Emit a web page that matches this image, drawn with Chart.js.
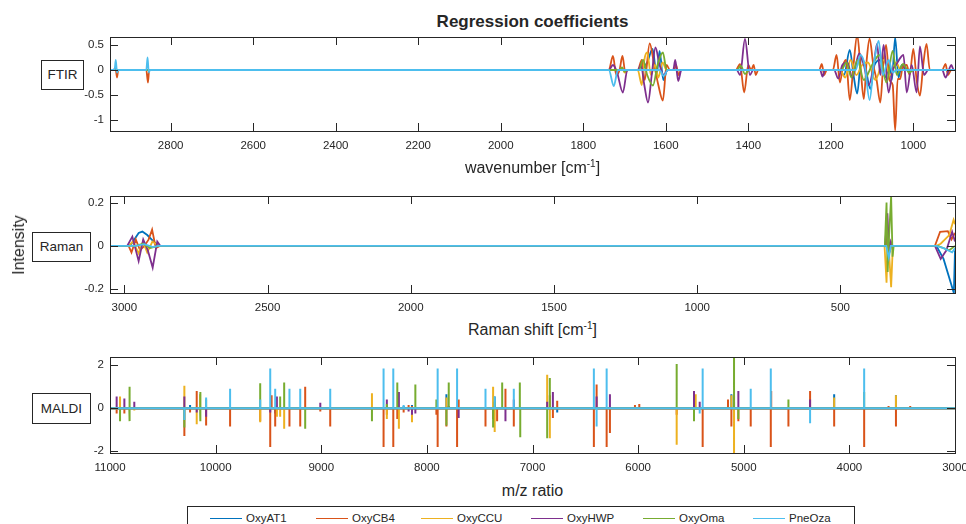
<!DOCTYPE html>
<html>
<head>
<meta charset="utf-8">
<script src="https://cdn.jsdelivr.net/npm/chart.js@4.4.4/dist/chart.umd.min.js"></script>
<style>
  html, body { margin: 0; padding: 0; background: #fff; overflow: hidden; }
  body { width: 966px; height: 524px; position: relative; font-family: 'Liberation Sans', Arial, sans-serif; color: #262626; }
  canvas { position: absolute; left: 0; }
  .txt { position: absolute; white-space: nowrap; }
  .titulo { left: 110px; width: 845px; top: 12px; text-align: center; font-weight: bold; font-size: 17px; }
  .eixo { left: 110px; width: 845px; text-align: center; font-size: 16px; }
  .eixo sup { font-size: 10px; }
  .caixa { position: absolute; border: 1px solid #262626; font-size: 13.5px; text-align: center; box-sizing: border-box; background: #fff; }
  .legenda { position: absolute; left: 187px; top: 506px; width: 668px; height: 40px; border: 1px solid #262626; box-sizing: border-box; }
  .item { position: absolute; top: 511px; font-size: 11.5px; line-height: 14px; }
  .amostra { position: absolute; top: 518px; height: 0; border-top: 1.5px solid; }
</style>
</head>
<body>

<div class="txt titulo">Regression coefficients</div>

<canvas id="ftir" width="1000" height="130" style="top:30px"></canvas>
<canvas id="raman" width="1000" height="130" style="top:190px"></canvas>
<canvas id="maldi" width="1000" height="130" style="top:350px"></canvas>

<div class="txt eixo" style="top:158px">wavenumber [cm<sup>-1</sup>]</div>
<div class="txt eixo" style="top:320px">Raman shift [cm<sup>-1</sup>]</div>
<div class="txt eixo" style="top:482px">m/z ratio</div>

<div class="txt" style="left:19px;top:245px;font-size:16px;transform:translate(-50%,-50%) rotate(-90deg)">Intensity</div>

<div class="caixa" style="left:41px;top:60px;width:43px;height:30px;line-height:28px">FTIR</div>
<div class="caixa" style="left:32px;top:232px;width:59px;height:30px;line-height:28px">Raman</div>
<div class="caixa" style="left:32px;top:393px;width:59px;height:31px;line-height:29px">MALDI</div>

<div class="legenda"></div>
<div id="itensLegenda"></div>

<script>
/* ── Séries e cores ── */
const SERIES = ['OxyAT1', 'OxyCB4', 'OxyCCU', 'OxyHWP', 'OxyOma', 'PneOza'];
const CORES  = ['#0072BD', '#D95319', '#EDB120', '#7E2F8E', '#77AC30', '#4DBEEE'];

/* ── FTIR: pares [número de onda, coeficiente] ── */
const ftirAT1 = [[2947,0],[1660,0],[1645,0.15],[1632,0.42],[1622,-0.1],[1615,0.38],[1606,-0.2],[1596,0],
  [1180,0],[1168,-0.1],[1154,0.4],[1145,-0.1],[1136,-0.47],[1126,0.25],[1116,0.05],[1104,-0.38],[1094,0.1],
  [1080,0.2],[1068,-0.15],[1058,0.1],[1052,-0.2],[1044,0.65],[1036,-0.15],[1028,0.1],[1018,0],[899,0]];
const ftirCB4 = [[2947,0],[2933,0],[2930,-0.15],[2927,0],[2859,0],[2855,-0.25],[2852,0],
  [1738,0],[1728,0.28],[1720,-0.1],[1712,0],[1705,0.28],[1698,-0.05],[1692,0],
  [1668,0],[1658,0.2],[1651,-0.2],[1639,0.53],[1628,0.1],[1618,-0.3],[1607,-0.61],[1598,0.1],[1590,0],
  [1580,0],[1575,0.1],[1569,-0.1],[1563,0],
  [1430,0],[1420,0.12],[1410,-0.45],[1400,0.1],[1393,0],[1387,0.1],[1382,-0.1],[1376,0],
  [1228,0],[1222,0.12],[1216,-0.1],[1210,0],
  [1195,0],[1186,0.3],[1178,-0.25],[1170,0.1],[1163,0.2],[1154,-0.6],[1145,0.1],[1136,0.7],[1128,0.05],
  [1120,-0.58],[1113,0.2],[1106,0.63],[1097,0.1],[1089,-0.2],[1080,-0.65],[1073,0.1],[1066,0.5],[1058,-0.2],
  [1050,-0.3],[1044,-1.21],[1038,-0.18],[1032,-0.18],[1026,0.05],[1016,0.1],[1009,-0.1],[1000,0.42],
  [992,-0.2],[984,-0.51],[976,0.1],[968,0.52],[960,0],[930,0],[922,0.12],[916,-0.1],[908,0],[899,0]];
const ftirCCU = [[2947,0],[1712,0],[1706,0.05],[1700,-0.05],[1694,0],
  [1668,0],[1658,-0.3],[1652,0.2],[1645,0.35],[1636,-0.1],[1626,0.1],[1618,-0.15],[1608,0.15],[1598,0],
  [1178,0],[1165,-0.15],[1152,0.2],[1138,-0.1],[1124,0.1],[1110,0.15],[1092,-0.2],[1072,0.2],[1056,-0.1],
  [1042,0.15],[1030,0],[899,0]];
const ftirHWP = [[2947,0],[2938,0],[2934,0.05],[2930,0],
  [1738,0],[1728,0.1],[1718,-0.05],[1704,-0.45],[1693,0],
  [1668,0],[1660,0.1],[1652,-0.3],[1643,-0.65],[1634,-0.1],[1625,0.45],[1615,0.1],[1605,-0.1],[1595,0],
  [1582,0],[1577,0.2],[1570,-0.22],[1562,0],
  [1428,0],[1420,-0.1],[1408,0.62],[1396,-0.1],[1388,0],
  [1226,0],[1220,-0.13],[1214,0],
  [1192,0],[1182,-0.17],[1172,0.1],[1160,0.15],[1148,-0.15],[1131,0.33],[1120,0.1],[1108,-0.3],[1096,0.1],
  [1088,0.52],[1080,-0.1],[1072,0.5],[1060,-0.45],[1050,0],[1042,0.1],[1024,0.3],[1016,-0.45],[1004,0.1],
  [992,-0.45],[984,0.47],[974,-0.1],[964,0],[930,0],[922,-0.15],[914,0],[908,0.1],[902,0],[899,0]];
const ftirOma = [[2947,0],[1712,0],[1706,0.05],[1700,-0.03],[1694,0],
  [1665,0],[1655,0.2],[1645,-0.1],[1631,-0.31],[1620,0.1],[1607,0.35],[1598,0],
  [1428,0],[1418,0.08],[1408,-0.08],[1398,0],
  [1175,0],[1162,0.15],[1150,-0.15],[1135,0.2],[1120,-0.2],[1100,0.1],[1082,0.3],[1065,-0.25],[1050,0.38],
  [1040,-0.1],[1025,0.12],[1010,-0.05],[998,0],[899,0]];
const ftirOza = [[2947,0],[2936,0],[2933,0.2],[2930,-0.05],[2927,0],[2859,0],[2856,0.25],[2853,-0.05],[2850,0],
  [1738,0],[1726,-0.32],[1716,0],[1615,0],[1605,-0.12],[1595,0],
  [1140,0],[1128,0.3],[1118,0.1],[1106,-0.6],[1096,0.1],[1084,0.58],[1074,-0.1],[1060,0.2],[1050,-0.05],
  [1040,0],[899,0]];

/* ── Raman: pares [deslocamento, coeficiente] ── */
const ramanAT1 = [[3050,0],[2990,0],[2975,0.01],[2950,0.06],[2937,0.066],[2920,0.05],[2905,0.03],[2890,0.01],
  [2878,0],[340,0],[333,0.02],[326,0],[165,0],[140,-0.06],[104,-0.217],[100,-0.02]];
const ramanCB4 = [[3050,0],[2985,0],[2975,-0.03],[2960,0.03],[2945,-0.02],[2930,0],[2915,0.03],[2903,0.075],
  [2890,-0.01],[2876,0],[342,0],[335,0.05],[329,-0.03],[322,0],[170,0],[152,0.065],[125,0.068],[112,0.03],[100,0.06]];
const ramanCCU = [[3050,0],[2985,0],[2970,0.02],[2950,-0.035],[2935,0.02],[2920,-0.03],[2902,0.02],[2880,0],
  [346,0],[339,-0.17],[334,0.05],[323,-0.19],[317,0],[165,0],[150,0.01],[120,0.05],[105,0.12],[100,0.1]];
const ramanHWP = [[3050,0],[2990,0],[2972,0.043],[2950,-0.07],[2934,0.03],[2918,-0.02],[2901,-0.1],[2885,0.02],
  [2874,0],[344,0],[336,0.15],[330,-0.03],[324,0.02],[318,0],[170,0],[150,-0.06],[130,-0.02],[110,0.065],[100,0.02]];
const ramanOma = [[3050,0],[2960,0],[2935,0.01],[2910,-0.01],[2880,0],[345,0],[339,0.2],[335,-0.12],[330,0.05],
  [323,0.23],[318,-0.05],[314,0],[160,0],[120,-0.02],[100,0]];
const ramanOza = [[3050,0],[2960,0],[2930,0.008],[2900,-0.005],[2880,0],[340,0],[331,-0.055],[324,0],
  [165,0],[140,-0.01],[110,-0.03],[100,-0.01]];

/* ── MALDI: barras [m/z, coeficiente] ── */
const maldiAT1 = [[10242,0.15],[9436,-0.25],[8220,0.1],[8141,0.15],[7815,0.65],[7358,0.55],[6766,-0.2],
  [5989,0.05],[5117,0.65],[5000,0.05],[4144,0.65],[3629,0.05],[3559,0.6],[3424,0.05]];
const maldiCB4 = [[10937,-0.25],[10864,-0.25],[10296,-1.29],[10242,-0.2],[10179,0.8],[10090,-0.8],[9989,0.05],
  [9863,-0.85],[9578,-0.6],[9483,-1.8],[9470,0.6],[9436,-0.85],[9301,-0.85],[9199,-0.85],[9152,1.0],[9009,-0.15],
  [8915,-0.85],[8410,-1.8],[8379,-0.3],[8318,-1.8],[8280,-0.5],[8220,-0.2],[8173,0.15],[8141,0.1],[7936,0.05],
  [7910,-0.3],[7898,-1.8],[7815,-0.85],[7714,-1.8],[7699,0.4],[7445,-0.85],[7373,-0.5],[7335,-0.6],[7256,0.9],
  [7177,-0.85],[6836,0.6],[6807,-0.45],[6766,0.35],[6419,-1.8],[6393,1.1],[6298,-1.8],[6267,-1.15],[6030,0.15],
  [5989,0.2],[5635,-0.3],[5389,-1.8],[5149,0.4],[5117,-0.85],[5092,0.6],[5051,-0.6],[4934,-0.85],[4744,-1.8],
  [4740,0.8],[4577,-0.85],[4372,0.8],[4144,-0.85],[3860,-1.8],[3629,0.1],[3559,-0.85],[3424,0.1]];
const maldiCCU = [[10905,0.55],[10770,-0.1],[10296,1.04],[10179,-0.75],[10147,0.65],[9578,-0.65],[9420,-0.4],
  [9389,-0.4],[9351,-0.95],[8520,0.7],[8379,-0.5],[8265,-0.95],[8141,-0.65],[7815,0.5],[7373,1.0],[7358,-1.1],
  [6861,1.55],[6836,-1.4],[5635,-1.7],[5455,0.65],[5117,0.6],[5092,-2.08],[4144,0.5],[3559,0.6]];
const maldiHWP = [[10937,0.54],[10864,0.45],[10770,0.3],[10296,0.55],[10179,-0.2],[10090,-0.4],[9483,-0.2],
  [9420,0.55],[9009,0.25],[8379,0.4],[8265,0.75],[8173,-0.15],[8141,-0.3],[8109,-0.25],[7793,0.1],[7699,-0.45],
  [7256,-0.6],[7177,0.4],[6861,0.3],[6807,0.75],[6393,0.55],[6267,0.65],[5471,0.8],[5417,0.3],[5092,0.3],
  [5051,0.8],[4372,0.4]];
const maldiOma = [[10905,-0.6],[10817,1.0],[10813,-0.6],[10296,-0.9],[10147,0.75],[10143,-0.6],[10090,0.4],
  [9578,1.16],[9389,0.55],[9351,1.2],[9152,-0.95],[8520,-0.6],[8379,0.2],[8280,1.2],[8109,1.1],[7910,0.4],
  [7815,-0.8],[7793,1.2],[7373,-0.9],[7358,0.3],[7287,1.2],[7120,1.2],[7116,-1.35],[6861,-1.4],[6836,1.4],
  [5635,2.06],[5471,-0.6],[5092,2.38],[5051,-0.5],[4577,0.4],[3860,0.75]];
const maldiOza = [[10296,-0.55],[10090,0.5],[9863,0.9],[9578,0.4],[9483,1.85],[9436,0.9],[9301,0.9],[9199,0.9],
  [8915,0.9],[8410,1.85],[8318,1.85],[8220,0.15],[7898,1.85],[7714,1.85],[7445,0.9],[7358,0.55],[7177,0.9],
  [6419,1.85],[6393,-0.85],[6298,1.85],[5417,-0.25],[5389,1.85],[4934,0.9],[4744,1.85],[4372,-0.7],[3860,1.85]];

/* ── Eixos: limites e marcas ── */
const ftirX  = [1000, 1200, 1400, 1600, 1800, 2000, 2200, 2400, 2600, 2800];
const ftirY  = [-1, -0.5, 0, 0.5];
const ramanX = [500, 1000, 1500, 2000, 2500, 3000];
const ramanY = [-0.2, 0, 0.2];
const maldiX = [3000, 4000, 5000, 6000, 7000, 8000, 9000, 10000, 11000];
const maldiY = [-2, 0, 2];

const FONTE = { family: "'Liberation Sans', Arial, sans-serif", size: 11.5 };
const CINZA = '#262626';

/* ── Converte pares em pontos {x,y} ── */
function pontos(pares) {
  return pares.map(p => ({ x: p[0], y: p[1] }));
}

/* ── Barras verticais do MALDI a partir da linha de base ── */
function barras(pares) {
  const out = [{ x: 11000, y: 0 }];
  pares.slice().sort((a, b) => b[0] - a[0]).forEach(p => {
    out.push({ x: p[0], y: 0 }, { x: p[0], y: p[1] }, { x: p[0], y: 0 });
  });
  out.push({ x: 3000, y: 0 });
  return out;
}

/* ── Zera o recuo automático dos rótulos (área fixa) ── */
function semRecuo(s) {
  s.paddingTop = 0; s.paddingBottom = 0;
  s.paddingLeft = 0; s.paddingRight = 0;
}

/* ── Moldura estilo MATLAB com marcas para dentro ── */
const moldura = {
  id: 'moldura',
  afterDraw(chart) {
    const { ctx, chartArea: a, scales } = chart;
    const L = 8;
    ctx.save();
    ctx.strokeStyle = CINZA;
    ctx.lineWidth = 1;
    ctx.beginPath();
    scales.x.ticks.forEach(t => {
      const px = Math.round(scales.x.getPixelForValue(t.value)) + 0.5;
      ctx.moveTo(px, a.bottom); ctx.lineTo(px, a.bottom - L);
      ctx.moveTo(px, a.top);    ctx.lineTo(px, a.top + L);
    });
    scales.y.ticks.forEach(t => {
      const py = Math.round(scales.y.getPixelForValue(t.value)) + 0.5;
      ctx.moveTo(a.left, py);  ctx.lineTo(a.left + L, py);
      ctx.moveTo(a.right, py); ctx.lineTo(a.right - L, py);
    });
    ctx.stroke();
    ctx.strokeRect(Math.round(a.left) + 0.5, Math.round(a.top) + 0.5,
                   Math.round(a.width), Math.round(a.height));
    ctx.restore();
  }
};

/* ────────────────────────────────────────────
   painel — cria um subgráfico com a área de
   plotagem na posição do original
─────────────────────────────────────────────── */
function painel(id, cfg) {
  const datasets = cfg.series.map((dados, i) => ({
    label: SERIES[i],
    data: dados,
    borderColor: CORES[i],
    borderWidth: cfg.largura,
    pointRadius: 0,
    tension: cfg.suave ? 0.4 : 0,
    cubicInterpolationMode: cfg.suave ? 'monotone' : 'default',
    order: SERIES.length - i   // PneOza por cima, como no MATLAB
  }));

  new Chart(document.getElementById(id), {
    type: 'line',
    data: { datasets },
    options: {
      responsive: false,
      animation: false,
      events: [],
      layout: { padding: { top: cfg.topo, left: 0, right: 45, bottom: 0 } },
      plugins: { legend: { display: false }, tooltip: { enabled: false } },
      scales: {
        x: {
          type: 'linear', reverse: true, min: cfg.xMin, max: cfg.xMax,
          grid: { display: false, drawTicks: false }, border: { display: false },
          afterBuildTicks: s => { s.ticks = cfg.xTicks.map(v => ({ value: v })); },
          afterFit: s => { s.height = cfg.alturaX; semRecuo(s); },
          ticks: { font: FONTE, color: CINZA, padding: 8, maxRotation: 0, autoSkip: false,
                   callback: v => String(v) }
        },
        y: {
          type: 'linear', min: cfg.yMin, max: cfg.yMax,
          grid: { display: false, drawTicks: false }, border: { display: false },
          afterBuildTicks: s => { s.ticks = cfg.yTicks.map(v => ({ value: v })); },
          afterFit: s => { s.width = 110; semRecuo(s); },
          ticks: { font: FONTE, color: CINZA, padding: 6, autoSkip: false,
                   callback: v => String(v) }
        }
      }
    },
    plugins: [moldura]
  });
}

painel('ftir', {
  series: [ftirAT1, ftirCB4, ftirCCU, ftirHWP, ftirOma, ftirOza].map(pontos),
  xMin: 899, xMax: 2947, xTicks: ftirX,
  yMin: -1.22, yMax: 0.66, yTicks: ftirY,
  topo: 7, alturaX: 29, largura: 1.8, suave: true
});

painel('raman', {
  series: [ramanAT1, ramanCB4, ramanCCU, ramanHWP, ramanOma, ramanOza].map(pontos),
  xMin: 100, xMax: 3050, xTicks: ramanX,
  yMin: -0.217, yMax: 0.23, yTicks: ramanY,
  topo: 6, alturaX: 27, largura: 1.8, suave: false
});

painel('maldi', {
  series: [maldiAT1, maldiCB4, maldiCCU, maldiHWP, maldiOma, maldiOza].map(barras),
  xMin: 3000, xMax: 11000, xTicks: maldiX,
  yMin: -2.08, yMax: 2.38, yTicks: maldiY,
  topo: 7, alturaX: 27, largura: 2, suave: false
});

/* ── Legenda inferior ── */
const POS_LEGENDA = [210, 316, 421, 531, 643, 753];
const caixaLeg = document.getElementById('itensLegenda');
SERIES.forEach((nome, i) => {
  const x = POS_LEGENDA[i];
  const linha = document.createElement('div');
  linha.className = 'amostra';
  linha.style.left = x + 'px';
  linha.style.width = '32px';
  linha.style.borderColor = CORES[i];
  const txt = document.createElement('div');
  txt.className = 'txt item';
  txt.style.left = (x + 36) + 'px';
  txt.textContent = nome;
  caixaLeg.appendChild(linha);
  caixaLeg.appendChild(txt);
});
</script>
</body>
</html>
